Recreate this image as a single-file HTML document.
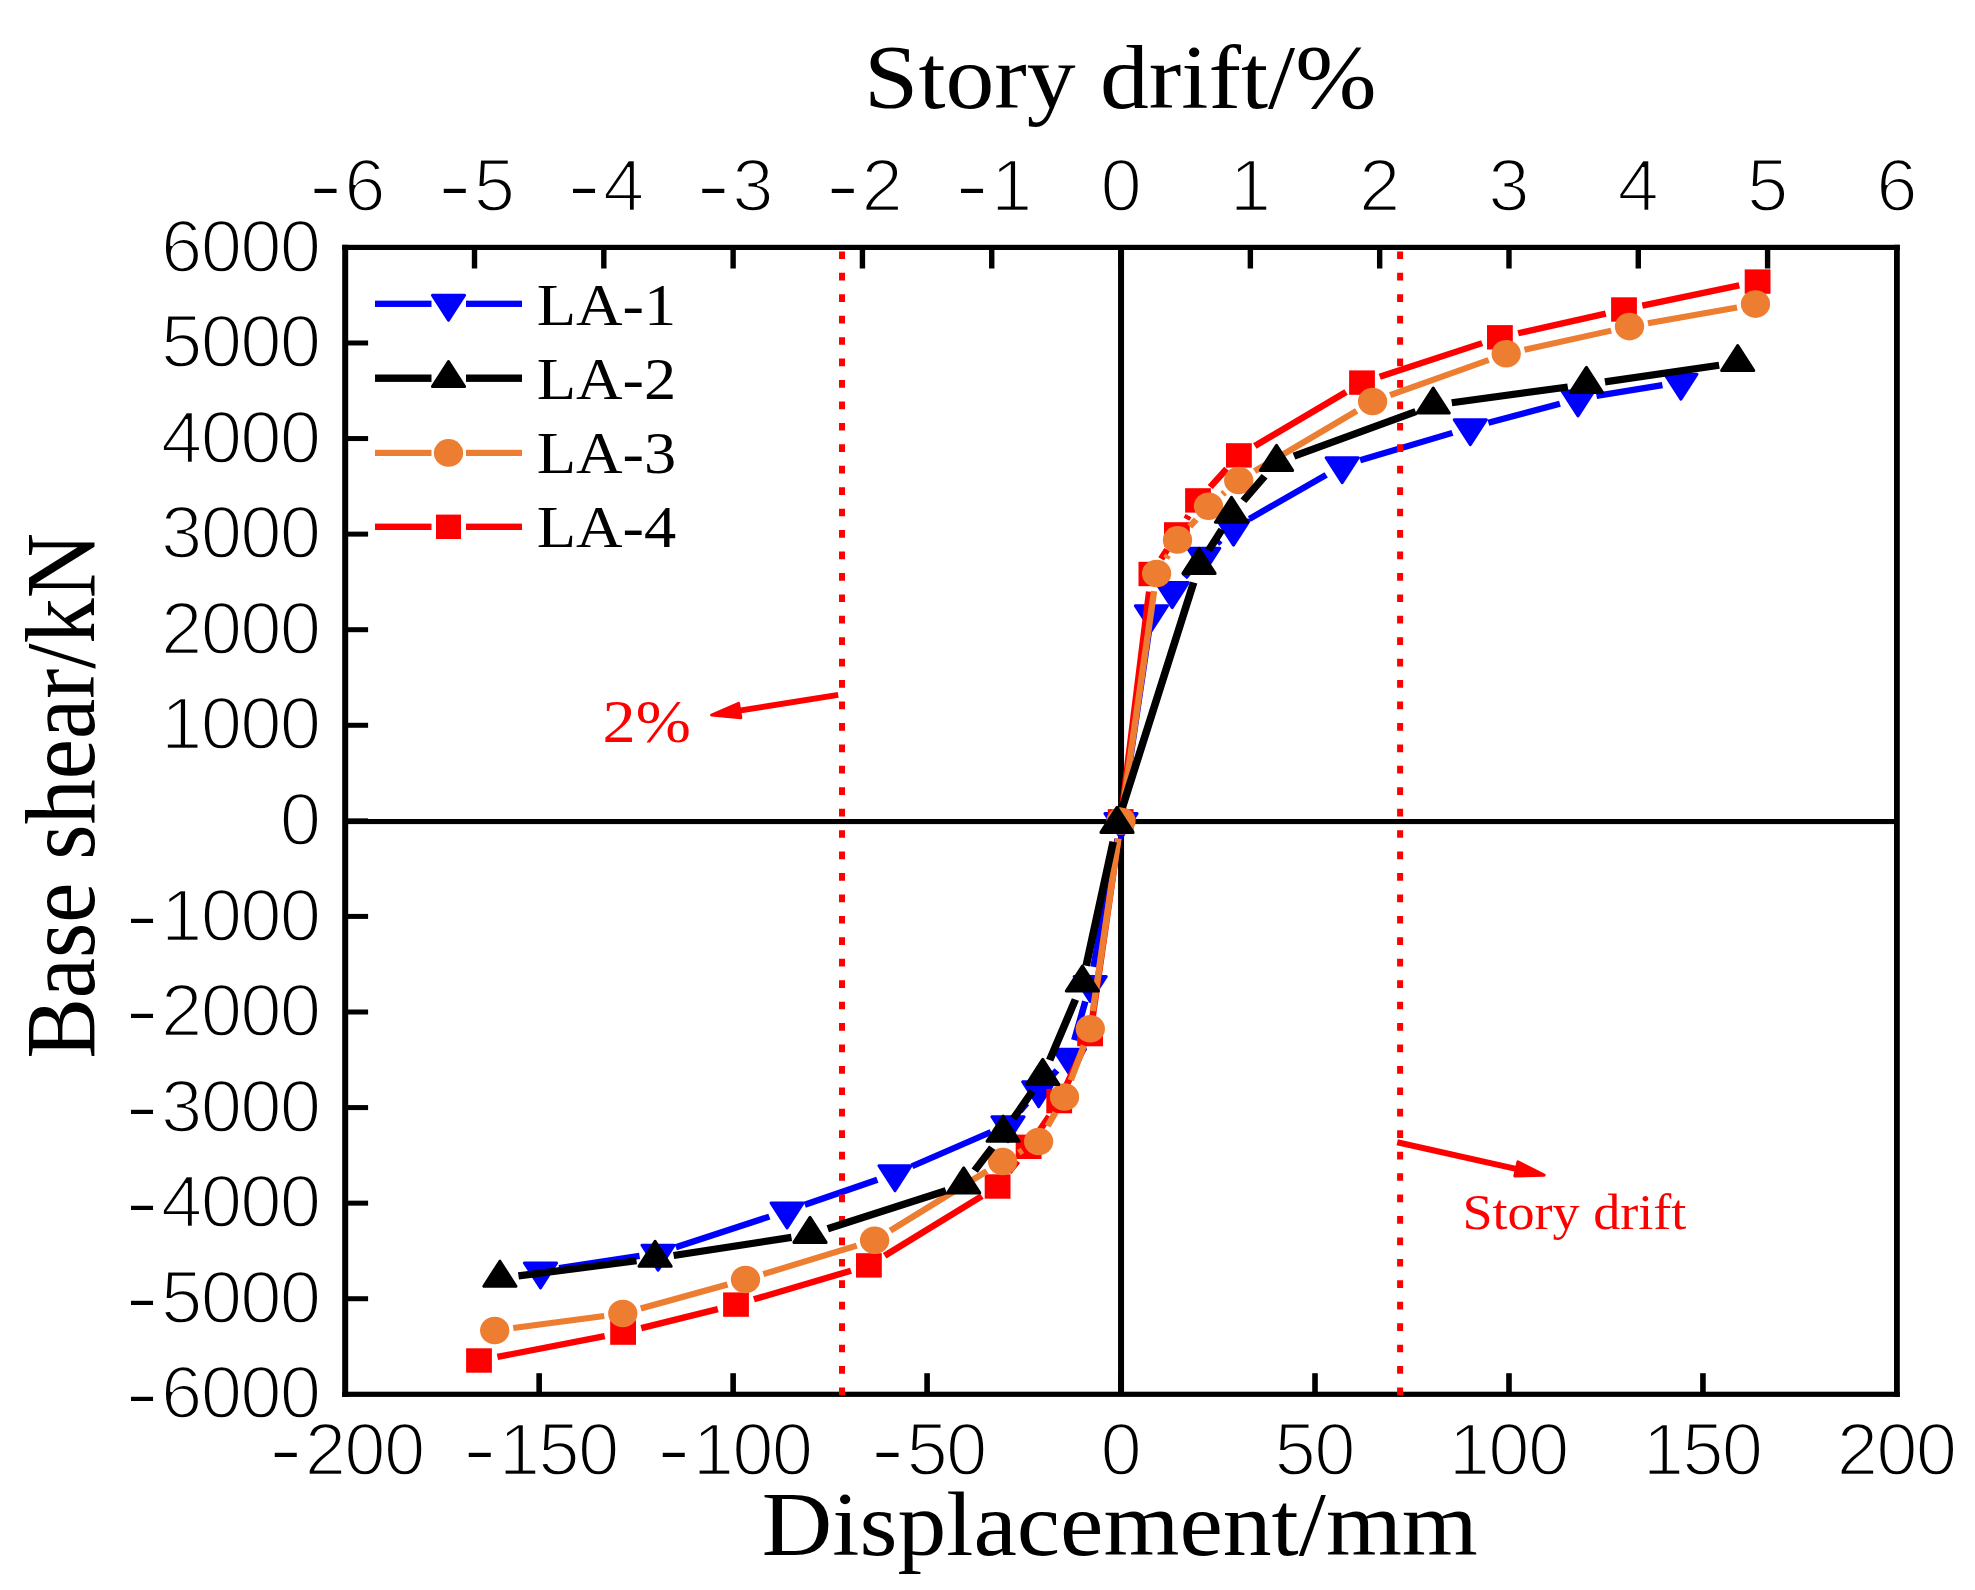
<!DOCTYPE html>
<html><head><meta charset="utf-8"><title>Base shear vs displacement</title>
<style>html,body{margin:0;padding:0;background:#fff}svg{display:block}</style></head>
<body>
<svg width="1975" height="1590" viewBox="0 0 1975 1590">
<rect width="1975" height="1590" fill="#fff"/>
<rect x="1118.05" y="247.4" width="6" height="1146.9" fill="#000"/>
<rect x="345.2" y="819" width="1551.7" height="5.1" fill="#000"/>
<g fill="#000"><rect x="536.36" y="1373.2" width="5.6" height="21.1"/><rect x="730.33" y="1373.2" width="5.6" height="21.1"/><rect x="924.29" y="1373.2" width="5.6" height="21.1"/><rect x="1118.25" y="1373.2" width="5.6" height="21.1"/><rect x="1312.21" y="1373.2" width="5.6" height="21.1"/><rect x="1506.18" y="1373.2" width="5.6" height="21.1"/><rect x="1700.14" y="1373.2" width="5.6" height="21.1"/><rect x="471.81" y="247.4" width="5.4" height="21.1"/><rect x="601.12" y="247.4" width="5.4" height="21.1"/><rect x="730.42" y="247.4" width="5.4" height="21.1"/><rect x="859.73" y="247.4" width="5.4" height="21.1"/><rect x="989.04" y="247.4" width="5.4" height="21.1"/><rect x="1118.35" y="247.4" width="5.4" height="21.1"/><rect x="1247.66" y="247.4" width="5.4" height="21.1"/><rect x="1376.97" y="247.4" width="5.4" height="21.1"/><rect x="1506.28" y="247.4" width="5.4" height="21.1"/><rect x="1635.58" y="247.4" width="5.4" height="21.1"/><rect x="1764.89" y="247.4" width="5.4" height="21.1"/><rect x="345.2" y="1296.22" width="22.9" height="5"/><rect x="345.2" y="1200.65" width="22.9" height="5"/><rect x="345.2" y="1105.08" width="22.9" height="5"/><rect x="345.2" y="1009.5" width="22.9" height="5"/><rect x="345.2" y="913.92" width="22.9" height="5"/><rect x="345.2" y="818.35" width="22.9" height="5"/><rect x="345.2" y="722.78" width="22.9" height="5"/><rect x="345.2" y="627.2" width="22.9" height="5"/><rect x="345.2" y="531.62" width="22.9" height="5"/><rect x="345.2" y="436.05" width="22.9" height="5"/><rect x="345.2" y="340.48" width="22.9" height="5"/></g>
<g fill="#000"><rect x="342.2" y="244.8" width="6" height="1152.1"/><rect x="1894" y="244.8" width="5.8" height="1152.1"/><rect x="342.2" y="244.8" width="1557.6" height="5.2"/><rect x="342.2" y="1391.7" width="1557.6" height="5.2"/></g>
<g transform="scale(1.06 1)"><path d="M527.38 1268.01L603.37 1255.89M637.57 1247.29L725.83 1216.61M759.18 1204.74L827.71 1179.76M860.42 1166.3L934.87 1132M962.25 1110.98L968.6 1103.32M991.68 1076.49L997.09 1070.41M1013.47 1040.11L1023.89 1001.39M1031.6 966.88L1054.44 838.82M1059.97 803.87L1083.81 631.23M1117.44 577.12L1123.98 569.58M1148.06 543.66L1151.18 540.54M1178.8 518.8L1251.11 474.8M1283.11 460.29L1370.19 432.91M1404.11 422.79L1471.65 403.71M1506.12 395.88L1568.31 385.12" stroke="#0000ff" stroke-width="6.2" fill="none"/></g>
<polygon points="524.4,1262.9 556.6,1262.9 540.5,1287.9" fill="#0000ff" stroke="#0000ff" stroke-width="3.0" stroke-linejoin="round"/>
<polygon points="642,1245.2 674.2,1245.2 658.1,1270.2" fill="#0000ff" stroke="#0000ff" stroke-width="3.0" stroke-linejoin="round"/>
<polygon points="771,1202.9 803.2,1202.9 787.1,1227.9" fill="#0000ff" stroke="#0000ff" stroke-width="3.0" stroke-linejoin="round"/>
<polygon points="878.9,1165.8 911.1,1165.8 895,1190.8" fill="#0000ff" stroke="#0000ff" stroke-width="3.0" stroke-linejoin="round"/>
<polygon points="991.9,1116.7 1024.1,1116.7 1008,1141.7" fill="#0000ff" stroke="#0000ff" stroke-width="3.0" stroke-linejoin="round"/>
<polygon points="1022.6,1081.8 1054.8,1081.8 1038.7,1106.8" fill="#0000ff" stroke="#0000ff" stroke-width="3.0" stroke-linejoin="round"/>
<polygon points="1053.3,1049.3 1085.5,1049.3 1069.4,1074.3" fill="#0000ff" stroke="#0000ff" stroke-width="3.0" stroke-linejoin="round"/>
<polygon points="1074.1,976.4 1106.3,976.4 1090.2,1001.4" fill="#0000ff" stroke="#0000ff" stroke-width="3.0" stroke-linejoin="round"/>
<polygon points="1104.9,813.5 1137.1,813.5 1121,838.5" fill="#0000ff" stroke="#0000ff" stroke-width="3.0" stroke-linejoin="round"/>
<polygon points="1135.3,605.8 1167.5,605.8 1151.4,630.8" fill="#0000ff" stroke="#0000ff" stroke-width="3.0" stroke-linejoin="round"/>
<polygon points="1156.1,582.6 1188.3,582.6 1172.2,607.6" fill="#0000ff" stroke="#0000ff" stroke-width="3.0" stroke-linejoin="round"/>
<polygon points="1187.6,548.3 1219.8,548.3 1203.7,573.3" fill="#0000ff" stroke="#0000ff" stroke-width="3.0" stroke-linejoin="round"/>
<polygon points="1217.4,520.1 1249.6,520.1 1233.5,545.1" fill="#0000ff" stroke="#0000ff" stroke-width="3.0" stroke-linejoin="round"/>
<polygon points="1326.1,457.7 1358.3,457.7 1342.2,482.7" fill="#0000ff" stroke="#0000ff" stroke-width="3.0" stroke-linejoin="round"/>
<polygon points="1454.2,419.7 1486.4,419.7 1470.3,444.7" fill="#0000ff" stroke="#0000ff" stroke-width="3.0" stroke-linejoin="round"/>
<polygon points="1561.9,391 1594.1,391 1578,416" fill="#0000ff" stroke="#0000ff" stroke-width="3.0" stroke-linejoin="round"/>
<polygon points="1664.8,374.2 1697,374.2 1680.9,399.2" fill="#0000ff" stroke="#0000ff" stroke-width="3.0" stroke-linejoin="round"/>
<line x1="842.0" y1="251.4" x2="842.0" y2="1395.2" stroke="#ff0000" stroke-width="6" stroke-dasharray="7.7 13.736"/>
<line x1="1400.1" y1="251.4" x2="1400.1" y2="1395.2" stroke="#ff0000" stroke-width="6" stroke-dasharray="7.7 13.736"/>
<g transform="scale(1.06 1)"><path d="M469.23 1356.94L570.49 1336.16M604.95 1328.1L677.22 1309.1M711.23 1299.32L802.82 1270.68M834.56 1255.76L926.29 1196.14M951.63 1172.25L959.88 1161.05M979.83 1131.84L989.79 1116.06M1006.31 1084.87L1021.33 1050.33M1030.78 1016.56L1054.88 838.84M1059.32 803.72L1084.17 591.58M1095.42 558.87L1101.09 549.53M1119.23 519.13L1121.25 515.67M1141.71 486.96L1157.25 468.84M1183.77 446L1269.91 392M1301.62 376.78L1398.28 343.12M1432.22 333.21L1514.85 313.59M1549.36 305.67L1640.83 285.43" stroke="#ff0000" stroke-width="6.3" fill="none"/></g>
<rect x="466.1" y="1348.3" width="25.8" height="24.4" fill="#ff0000"/>
<rect x="610.2" y="1320.4" width="25.8" height="24.4" fill="#ff0000"/>
<rect x="723.1" y="1292.4" width="25.8" height="24.4" fill="#ff0000"/>
<rect x="856" y="1253.2" width="25.8" height="24.4" fill="#ff0000"/>
<rect x="984.7" y="1174.3" width="25.8" height="24.4" fill="#ff0000"/>
<rect x="1015.7" y="1134.6" width="25.8" height="24.4" fill="#ff0000"/>
<rect x="1046.3" y="1088.9" width="25.8" height="24.4" fill="#ff0000"/>
<rect x="1077.2" y="1021.9" width="25.8" height="24.4" fill="#ff0000"/>
<rect x="1107.8" y="809.1" width="25.8" height="24.4" fill="#ff0000"/>
<rect x="1138.5" y="561.8" width="25.8" height="24.4" fill="#ff0000"/>
<rect x="1164" y="522.2" width="25.8" height="24.4" fill="#ff0000"/>
<rect x="1185.1" y="488.2" width="25.8" height="24.4" fill="#ff0000"/>
<rect x="1226" y="443.2" width="25.8" height="24.4" fill="#ff0000"/>
<rect x="1349.1" y="370.4" width="25.8" height="24.4" fill="#ff0000"/>
<rect x="1487" y="325.1" width="25.8" height="24.4" fill="#ff0000"/>
<rect x="1611.1" y="297.3" width="25.8" height="24.4" fill="#ff0000"/>
<rect x="1744.7" y="269.4" width="25.8" height="24.4" fill="#ff0000"/>
<g transform="scale(1.06 1)"><path d="M484.23 1328.03L570.02 1315.97M604.53 1308.51L686.32 1284.49M720.15 1274.08L808.25 1245.72M839.92 1230.63L931.03 1171.17M961.1 1152.52L964.56 1150.48M988.33 1125.98L995.73 1112.52M1010.19 1080.33L1022.64 1045.37M1031.03 1011.17L1055.1 838.53M1059.93 803.46L1088.75 591.04M1100.09 558.23L1101.89 555.17M1122.45 526.53L1128.49 519.57M1153.24 494.34L1155.44 492.36M1183.59 471.11L1279.9 410.89M1311.46 395.22L1404.39 359.98M1438.18 349.68L1520.03 330.62M1554.66 323.31L1638.74 307.39" stroke="#ed7d31" stroke-width="6.1" fill="none"/></g>
<ellipse cx="494.7" cy="1330.5" rx="14.65" ry="13.8" fill="#ed7d31"/>
<ellipse cx="622.8" cy="1313.5" rx="14.65" ry="13.8" fill="#ed7d31"/>
<ellipse cx="745.5" cy="1279.5" rx="14.65" ry="13.8" fill="#ed7d31"/>
<ellipse cx="874.6" cy="1240.3" rx="14.65" ry="13.8" fill="#ed7d31"/>
<ellipse cx="1002.6" cy="1161.5" rx="14.65" ry="13.8" fill="#ed7d31"/>
<ellipse cx="1038.6" cy="1141.5" rx="14.65" ry="13.8" fill="#ed7d31"/>
<ellipse cx="1064.5" cy="1097" rx="14.65" ry="13.8" fill="#ed7d31"/>
<ellipse cx="1090.3" cy="1028.7" rx="14.65" ry="13.8" fill="#ed7d31"/>
<ellipse cx="1121" cy="821" rx="14.65" ry="13.8" fill="#ed7d31"/>
<ellipse cx="1156.6" cy="573.5" rx="14.65" ry="13.8" fill="#ed7d31"/>
<ellipse cx="1177.5" cy="539.9" rx="14.65" ry="13.8" fill="#ed7d31"/>
<ellipse cx="1208.5" cy="506.2" rx="14.65" ry="13.8" fill="#ed7d31"/>
<ellipse cx="1238.7" cy="480.5" rx="14.65" ry="13.8" fill="#ed7d31"/>
<ellipse cx="1372.6" cy="401.5" rx="14.65" ry="13.8" fill="#ed7d31"/>
<ellipse cx="1506.2" cy="353.7" rx="14.65" ry="13.8" fill="#ed7d31"/>
<ellipse cx="1629.5" cy="326.6" rx="14.65" ry="13.8" fill="#ed7d31"/>
<ellipse cx="1755.5" cy="304.1" rx="14.65" ry="13.8" fill="#ed7d31"/>
<g transform="scale(1.06 1)"><path d="M489.14 1275.92L600.48 1260.78M635.49 1255.54L746.68 1237.36M780.9 1228.78L892.4 1190.72M919.48 1170.63L935.99 1147.67M956.05 1118.51L973.95 1091.29M990.27 1060.07L1014.54 999.53M1024.7 965.76L1050.21 841.84M1058.84 807.54L1126.07 582.46M1140.24 550.32L1152.69 529.58M1173 500.7L1193.04 476.2M1220.75 456.1L1335.57 411.6M1369.6 402.69L1479.08 387.01M1514.1 381.82L1621.84 365.28" stroke="#000000" stroke-width="7.2" fill="none"/></g>
<polygon points="483.8,1286.2 516,1286.2 499.9,1261.2" fill="#000000" stroke="#000000" stroke-width="3.0" stroke-linejoin="round"/>
<polygon points="639,1266.3 671.2,1266.3 655.1,1241.3" fill="#000000" stroke="#000000" stroke-width="3.0" stroke-linejoin="round"/>
<polygon points="793.9,1242.4 826.1,1242.4 810,1217.4" fill="#000000" stroke="#000000" stroke-width="3.0" stroke-linejoin="round"/>
<polygon points="947.6,1192.9 979.8,1192.9 963.7,1167.9" fill="#000000" stroke="#000000" stroke-width="3.0" stroke-linejoin="round"/>
<polygon points="987,1141.2 1019.2,1141.2 1003.1,1116.2" fill="#000000" stroke="#000000" stroke-width="3.0" stroke-linejoin="round"/>
<polygon points="1026.6,1084.4 1058.8,1084.4 1042.7,1059.4" fill="#000000" stroke="#000000" stroke-width="3.0" stroke-linejoin="round"/>
<polygon points="1066.3,991 1098.5,991 1082.4,966" fill="#000000" stroke="#000000" stroke-width="3.0" stroke-linejoin="round"/>
<polygon points="1100.9,832.4 1133.1,832.4 1117,807.4" fill="#000000" stroke="#000000" stroke-width="3.0" stroke-linejoin="round"/>
<polygon points="1182.9,573.4 1215.1,573.4 1199,548.4" fill="#000000" stroke="#000000" stroke-width="3.0" stroke-linejoin="round"/>
<polygon points="1215.4,522.3 1247.6,522.3 1231.5,497.3" fill="#000000" stroke="#000000" stroke-width="3.0" stroke-linejoin="round"/>
<polygon points="1260.4,470.4 1292.6,470.4 1276.5,445.4" fill="#000000" stroke="#000000" stroke-width="3.0" stroke-linejoin="round"/>
<polygon points="1417.1,413.1 1449.3,413.1 1433.2,388.1" fill="#000000" stroke="#000000" stroke-width="3.0" stroke-linejoin="round"/>
<polygon points="1570.3,392.4 1602.5,392.4 1586.4,367.4" fill="#000000" stroke="#000000" stroke-width="3.0" stroke-linejoin="round"/>
<polygon points="1721.6,370.5 1753.8,370.5 1737.7,345.5" fill="#000000" stroke="#000000" stroke-width="3.0" stroke-linejoin="round"/>
<rect x="375" y="300.65" width="56.5" height="6.3" fill="#0000ff"/><rect x="466" y="300.65" width="56" height="6.3" fill="#0000ff"/>
<polygon points="432.4,295.3 464.6,295.3 448.5,320.3" fill="#0000ff" stroke="#0000ff" stroke-width="3.0" stroke-linejoin="round"/>
<rect x="375" y="374.5" width="56.5" height="7.4" fill="#000000"/><rect x="466" y="374.5" width="56" height="7.4" fill="#000000"/>
<polygon points="432.4,386.6 464.6,386.6 448.5,361.6" fill="#000000" stroke="#000000" stroke-width="3.0" stroke-linejoin="round"/>
<rect x="375" y="449.8" width="56.5" height="6.2" fill="#ed7d31"/><rect x="466" y="449.8" width="56" height="6.2" fill="#ed7d31"/>
<ellipse cx="448.5" cy="452.9" rx="14.65" ry="13.8" fill="#ed7d31"/>
<rect x="375" y="523.6" width="56.5" height="6.4" fill="#ff0000"/><rect x="466" y="523.6" width="56" height="6.4" fill="#ff0000"/>
<rect x="436" y="514.6" width="25" height="24.4" fill="#ff0000"/>
<line x1="838.2" y1="694.9" x2="737.74" y2="710.85" stroke="#ff0000" stroke-width="6.0"/><polygon points="711.57,715.01 738.58,703.38 740.85,717.7" fill="#ff0000" stroke="#ff0000" stroke-width="3.0" stroke-linejoin="round"/>
<line x1="1397.2" y1="1142.2" x2="1518.3" y2="1169.35" stroke="#ff0000" stroke-width="6.0"/><polygon points="1544.16,1175.15 1514.76,1175.99 1517.94,1161.84" fill="#ff0000" stroke="#ff0000" stroke-width="3.0" stroke-linejoin="round"/>
<text transform="translate(1120.3 107.9) scale(1.0846 1)" font-family="'Liberation Serif',serif" font-size="90" text-anchor="middle" fill="#000">Story drift/%</text>
<text transform="translate(1119.8 1554.7) scale(1.0853 1)" font-family="'Liberation Serif',serif" font-size="90" text-anchor="middle" fill="#000">Displacement/mm</text>
<text transform="translate(93.6 795.7) scale(1.098 1) rotate(-90)" font-family="'Liberation Serif',serif" font-size="90.6" text-anchor="middle" fill="#000">Base shear/kN</text>
<text transform="translate(536.7 324.7) scale(1.074 1)" font-family="'Liberation Serif',serif" font-size="60" text-anchor="start" fill="#000">LA-1</text>
<text transform="translate(536.7 398.9) scale(1.074 1)" font-family="'Liberation Serif',serif" font-size="60" text-anchor="start" fill="#000">LA-2</text>
<text transform="translate(536.7 472.8) scale(1.074 1)" font-family="'Liberation Serif',serif" font-size="60" text-anchor="start" fill="#000">LA-3</text>
<text transform="translate(536.7 546.9) scale(1.074 1)" font-family="'Liberation Serif',serif" font-size="60" text-anchor="start" fill="#000">LA-4</text>
<text transform="translate(602.6 741.6) scale(1.095 1)" font-family="'Liberation Serif',serif" font-size="60.5" text-anchor="start" fill="#ff0000">2%</text>
<text transform="translate(1462.4 1229.1) scale(1.082 1)" font-family="'Liberation Serif',serif" font-size="50" text-anchor="start" fill="#ff0000">Story drift</text>
<text transform="translate(270.8 1469.28) scale(1.68 1)" font-family="'Liberation Sans',sans-serif" font-size="53.76">-</text><text transform="scale(1.012 1)" x="301.13 340.26 379.39" y="1475" font-family="'Liberation Sans',sans-serif" font-size="73.4" stroke="#fff" stroke-width="2.3">200</text>
<text transform="translate(464.76 1469.28) scale(1.68 1)" font-family="'Liberation Sans',sans-serif" font-size="53.76">-</text><text transform="scale(1.012 1)" x="492.79 531.92 571.05" y="1475" font-family="'Liberation Sans',sans-serif" font-size="73.4" stroke="#fff" stroke-width="2.3">150</text>
<text transform="translate(658.72 1469.28) scale(1.68 1)" font-family="'Liberation Sans',sans-serif" font-size="53.76">-</text><text transform="scale(1.012 1)" x="684.46 723.59 762.72" y="1475" font-family="'Liberation Sans',sans-serif" font-size="73.4" stroke="#fff" stroke-width="2.3">100</text>
<text transform="translate(872.48 1469.28) scale(1.68 1)" font-family="'Liberation Sans',sans-serif" font-size="53.76">-</text><text transform="scale(1.012 1)" x="895.68 934.81" y="1475" font-family="'Liberation Sans',sans-serif" font-size="73.4" stroke="#fff" stroke-width="2.3">50</text>
<text transform="scale(1.012 1)" x="1087.35" y="1475" font-family="'Liberation Sans',sans-serif" font-size="73.4" stroke="#fff" stroke-width="2.3">0</text>
<text transform="scale(1.012 1)" x="1259.44 1298.57" y="1475" font-family="'Liberation Sans',sans-serif" font-size="73.4" stroke="#fff" stroke-width="2.3">50</text>
<text transform="scale(1.012 1)" x="1431.54 1470.67 1509.8" y="1475" font-family="'Liberation Sans',sans-serif" font-size="73.4" stroke="#fff" stroke-width="2.3">100</text>
<text transform="scale(1.012 1)" x="1623.2 1662.33 1701.46" y="1475" font-family="'Liberation Sans',sans-serif" font-size="73.4" stroke="#fff" stroke-width="2.3">150</text>
<text transform="scale(1.012 1)" x="1814.87 1854 1893.13" y="1475" font-family="'Liberation Sans',sans-serif" font-size="73.4" stroke="#fff" stroke-width="2.3">200</text>
<text transform="translate(310.4 205.48) scale(1.68 1)" font-family="'Liberation Sans',sans-serif" font-size="53.76">-</text><text transform="scale(1.012 1)" x="340.26" y="211.2" font-family="'Liberation Sans',sans-serif" font-size="73.4" stroke="#fff" stroke-width="2.3">6</text>
<text transform="translate(439.7 205.48) scale(1.68 1)" font-family="'Liberation Sans',sans-serif" font-size="53.76">-</text><text transform="scale(1.012 1)" x="468.04" y="211.2" font-family="'Liberation Sans',sans-serif" font-size="73.4" stroke="#fff" stroke-width="2.3">5</text>
<text transform="translate(569.01 205.48) scale(1.68 1)" font-family="'Liberation Sans',sans-serif" font-size="53.76">-</text><text transform="scale(1.012 1)" x="595.81" y="211.2" font-family="'Liberation Sans',sans-serif" font-size="73.4" stroke="#fff" stroke-width="2.3">4</text>
<text transform="translate(698.32 205.48) scale(1.68 1)" font-family="'Liberation Sans',sans-serif" font-size="53.76">-</text><text transform="scale(1.012 1)" x="723.59" y="211.2" font-family="'Liberation Sans',sans-serif" font-size="73.4" stroke="#fff" stroke-width="2.3">3</text>
<text transform="translate(827.63 205.48) scale(1.68 1)" font-family="'Liberation Sans',sans-serif" font-size="53.76">-</text><text transform="scale(1.012 1)" x="851.36" y="211.2" font-family="'Liberation Sans',sans-serif" font-size="73.4" stroke="#fff" stroke-width="2.3">2</text>
<text transform="translate(956.94 205.48) scale(1.68 1)" font-family="'Liberation Sans',sans-serif" font-size="53.76">-</text><text transform="scale(1.012 1)" x="979.14" y="211.2" font-family="'Liberation Sans',sans-serif" font-size="73.4" stroke="#fff" stroke-width="2.3">1</text>
<text transform="scale(1.012 1)" x="1087.35" y="211.2" font-family="'Liberation Sans',sans-serif" font-size="73.4" stroke="#fff" stroke-width="2.3">0</text>
<text transform="scale(1.012 1)" x="1215.12" y="211.2" font-family="'Liberation Sans',sans-serif" font-size="73.4" stroke="#fff" stroke-width="2.3">1</text>
<text transform="scale(1.012 1)" x="1342.9" y="211.2" font-family="'Liberation Sans',sans-serif" font-size="73.4" stroke="#fff" stroke-width="2.3">2</text>
<text transform="scale(1.012 1)" x="1470.67" y="211.2" font-family="'Liberation Sans',sans-serif" font-size="73.4" stroke="#fff" stroke-width="2.3">3</text>
<text transform="scale(1.012 1)" x="1598.45" y="211.2" font-family="'Liberation Sans',sans-serif" font-size="73.4" stroke="#fff" stroke-width="2.3">4</text>
<text transform="scale(1.012 1)" x="1726.22" y="211.2" font-family="'Liberation Sans',sans-serif" font-size="73.4" stroke="#fff" stroke-width="2.3">5</text>
<text transform="scale(1.012 1)" x="1854" y="211.2" font-family="'Liberation Sans',sans-serif" font-size="73.4" stroke="#fff" stroke-width="2.3">6</text>
<text transform="translate(127.1 1412.78) scale(1.68 1)" font-family="'Liberation Sans',sans-serif" font-size="53.76">-</text><text transform="scale(1.012 1)" x="159.13 198.27 237.4 276.53" y="1418.5" font-family="'Liberation Sans',sans-serif" font-size="73.4" stroke="#fff" stroke-width="2.3">6000</text>
<text transform="translate(127.1 1317.2) scale(1.68 1)" font-family="'Liberation Sans',sans-serif" font-size="53.76">-</text><text transform="scale(1.012 1)" x="159.13 198.27 237.4 276.53" y="1322.92" font-family="'Liberation Sans',sans-serif" font-size="73.4" stroke="#fff" stroke-width="2.3">5000</text>
<text transform="translate(127.1 1221.63) scale(1.68 1)" font-family="'Liberation Sans',sans-serif" font-size="53.76">-</text><text transform="scale(1.012 1)" x="159.13 198.27 237.4 276.53" y="1227.35" font-family="'Liberation Sans',sans-serif" font-size="73.4" stroke="#fff" stroke-width="2.3">4000</text>
<text transform="translate(127.1 1126.06) scale(1.68 1)" font-family="'Liberation Sans',sans-serif" font-size="53.76">-</text><text transform="scale(1.012 1)" x="159.13 198.27 237.4 276.53" y="1131.78" font-family="'Liberation Sans',sans-serif" font-size="73.4" stroke="#fff" stroke-width="2.3">3000</text>
<text transform="translate(127.1 1030.48) scale(1.68 1)" font-family="'Liberation Sans',sans-serif" font-size="53.76">-</text><text transform="scale(1.012 1)" x="159.13 198.27 237.4 276.53" y="1036.2" font-family="'Liberation Sans',sans-serif" font-size="73.4" stroke="#fff" stroke-width="2.3">2000</text>
<text transform="translate(127.1 934.9) scale(1.68 1)" font-family="'Liberation Sans',sans-serif" font-size="53.76">-</text><text transform="scale(1.012 1)" x="159.13 198.27 237.4 276.53" y="940.62" font-family="'Liberation Sans',sans-serif" font-size="73.4" stroke="#fff" stroke-width="2.3">1000</text>
<text transform="scale(1.012 1)" x="276.53" y="845.05" font-family="'Liberation Sans',sans-serif" font-size="73.4" stroke="#fff" stroke-width="2.3">0</text>
<text transform="scale(1.012 1)" x="159.13 198.27 237.4 276.53" y="749.48" font-family="'Liberation Sans',sans-serif" font-size="73.4" stroke="#fff" stroke-width="2.3">1000</text>
<text transform="scale(1.012 1)" x="159.13 198.27 237.4 276.53" y="653.9" font-family="'Liberation Sans',sans-serif" font-size="73.4" stroke="#fff" stroke-width="2.3">2000</text>
<text transform="scale(1.012 1)" x="159.13 198.27 237.4 276.53" y="558.33" font-family="'Liberation Sans',sans-serif" font-size="73.4" stroke="#fff" stroke-width="2.3">3000</text>
<text transform="scale(1.012 1)" x="159.13 198.27 237.4 276.53" y="462.75" font-family="'Liberation Sans',sans-serif" font-size="73.4" stroke="#fff" stroke-width="2.3">4000</text>
<text transform="scale(1.012 1)" x="159.13 198.27 237.4 276.53" y="367.18" font-family="'Liberation Sans',sans-serif" font-size="73.4" stroke="#fff" stroke-width="2.3">5000</text>
<text transform="scale(1.012 1)" x="159.13 198.27 237.4 276.53" y="271.6" font-family="'Liberation Sans',sans-serif" font-size="73.4" stroke="#fff" stroke-width="2.3">6000</text>
</svg>
</body></html>
